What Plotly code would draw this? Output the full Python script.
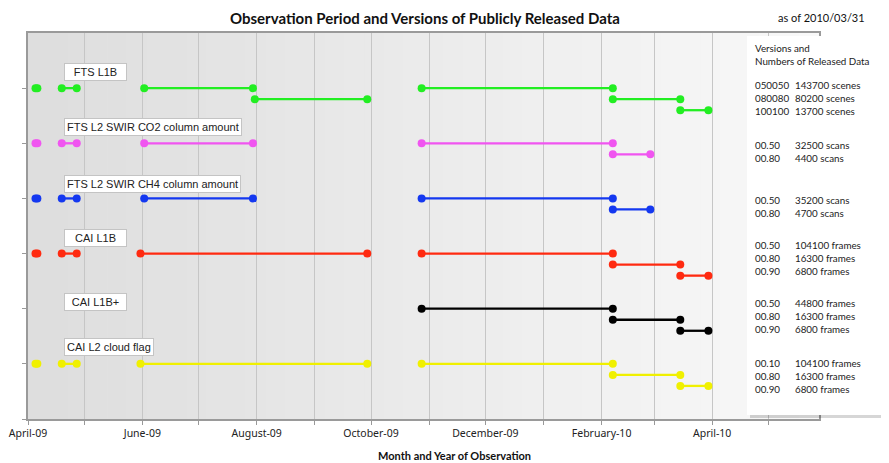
import plotly.graph_objects as go

# ---------------- data ----------------
products = ["FTS L1B", "FTS L2 SWIR CO2 column amount", "FTS L2 SWIR CH4 column amount",
            "CAI L1B", "CAI L1B+", "CAI L2 cloud flag"]
colors = ["#22ee22", "#f055f0", "#1438f0", "#ff2a10", "#000000", "#f0f000"]

fts_l1b_start = ["2009-04-05", "2009-04-19", "2009-06-02", "2009-07-31", "2009-10-28", "2010-02-07", "2010-03-15"]
fts_l1b_end   = ["2009-04-06", "2009-04-27", "2009-07-30", "2009-09-29", "2010-02-07", "2010-03-15", "2010-03-30"]
fts_l1b_level = [0, 0, 0, 1, 0, 1, 2]

co2_start = ["2009-04-05", "2009-04-19", "2009-06-02", "2009-10-28", "2010-02-07"]
co2_end   = ["2009-04-06", "2009-04-27", "2009-07-30", "2010-02-07", "2010-02-27"]
co2_level = [0, 0, 0, 0, 1]

ch4_start = ["2009-04-05", "2009-04-19", "2009-06-02", "2009-10-28", "2010-02-07"]
ch4_end   = ["2009-04-06", "2009-04-27", "2009-07-30", "2010-02-07", "2010-02-27"]
ch4_level = [0, 0, 0, 0, 1]

cai_l1b_start = ["2009-04-05", "2009-04-19", "2009-05-31", "2009-10-28", "2010-02-07", "2010-03-15"]
cai_l1b_end   = ["2009-04-06", "2009-04-27", "2009-09-29", "2010-02-07", "2010-03-15", "2010-03-30"]
cai_l1b_level = [0, 0, 0, 0, 1, 2]

cai_l1bp_start = ["2009-10-28", "2010-02-07", "2010-03-15"]
cai_l1bp_end   = ["2010-02-07", "2010-03-15", "2010-03-30"]
cai_l1bp_level = [0, 1, 2]

cai_l2_start = ["2009-04-05", "2009-04-19", "2009-05-31", "2009-10-28", "2010-02-07", "2010-03-15"]
cai_l2_end   = ["2009-04-06", "2009-04-27", "2009-09-29", "2010-02-07", "2010-03-15", "2010-03-30"]
cai_l2_level = [0, 0, 0, 0, 1, 2]

fts_l1b_versions = ["050050", "080080", "100100"]
fts_l1b_counts = ["143700 scenes", "80200 scenes", "13700 scenes"]
co2_versions = ["00.50", "00.80"]
co2_counts = ["32500 scans", "4400 scans"]
ch4_versions = ["00.50", "00.80"]
ch4_counts = ["35200 scans", "4700 scans"]
cai_l1b_versions = ["00.50", "00.80", "00.90"]
cai_l1b_counts = ["104100 frames", "16300 frames", "6800 frames"]
cai_l1bp_versions = ["00.50", "00.80", "00.90"]
cai_l1bp_counts = ["44800 frames", "16300 frames", "6800 frames"]
cai_l2_versions = ["00.10", "00.80", "00.90"]
cai_l2_counts = ["104100 frames", "16300 frames", "6800 frames"]

segments = [
    (fts_l1b_start, fts_l1b_end, fts_l1b_level),
    (co2_start, co2_end, co2_level),
    (ch4_start, ch4_end, ch4_level),
    (cai_l1b_start, cai_l1b_end, cai_l1b_level),
    (cai_l1bp_start, cai_l1bp_end, cai_l1bp_level),
    (cai_l2_start, cai_l2_end, cai_l2_level),
]
versions = [fts_l1b_versions, co2_versions, ch4_versions, cai_l1b_versions, cai_l1bp_versions, cai_l2_versions]
counts = [fts_l1b_counts, co2_counts, ch4_counts, cai_l1b_counts, cai_l1bp_counts, cai_l2_counts]

# ---------------- layout geometry ----------------
# the page body has an 8px default margin, so the figure is drawn 8px smaller
OFF = 8
W, H = 889 - OFF, 463 - OFF
L, T = 28 - OFF, 33 - OFF
R = W - (819 - OFF)
B = H - (419 - OFF)
PW, PH = W - L - R, H - T - B


def px(xp):  # reference-image pixel -> paper
    return (xp - OFF - L) / PW


def py(yp):
    return 1 - (yp - OFF - T) / PH


LEVEL_STEP = 0.2

fig = go.Figure()
for i, (starts, ends, levels) in enumerate(segments):
    row = i + 1
    xs, ys = [], []
    for s, e, lv in zip(starts, ends, levels):
        y = row + LEVEL_STEP * lv
        xs += [s, e, None]
        ys += [y, y, None]
    fig.add_trace(go.Scatter(
        x=xs, y=ys, mode="lines+markers", name=products[i],
        line=dict(color=colors[i], width=2.3),
        marker=dict(color=colors[i], size=8),
        showlegend=False, hoverinfo="skip",
    ))

shapes = []
# gradient background of plot area
NB = 40
for k in range(NB):
    g = int(222 + (249 - 222) * k / (NB - 1))
    shapes.append(dict(type="rect", xref="x domain", yref="y domain",
                       x0=k / NB, x1=(k + 1) / NB + 0.001, y0=0, y1=1,
                       fillcolor=f"rgb({g},{g},{g})", line=dict(width=0), layer="below"))

# side panel with shadow
shapes.append(dict(type="rect", xref="paper", yref="paper",
                   x0=px(750), x1=px(886), y0=py(418), y1=py(39),
                   fillcolor="rgba(0,0,0,0.16)", line=dict(width=0), layer="above"))
shapes.append(dict(type="rect", xref="paper", yref="paper",
                   x0=px(747), x1=px(883), y0=py(415), y1=py(36),
                   fillcolor="white", line=dict(width=0), layer="above"))

annotations = []
# product label boxes
label_offsets = [-0.3, -0.29, -0.27, -0.28, -0.13, -0.3]
label_widths = [57, None, None, 57, 57, None]
for i, name in enumerate(products):
    a = dict(x="2009-04-20", y=i + 1 + label_offsets[i], xref="x", yref="y",
             text=name, showarrow=False, xanchor="left", yanchor="middle",
             font=dict(family="Liberation Sans, Arial", size=11, color="#222"),
             bgcolor="white", bordercolor="#c4c4c4", borderwidth=1, borderpad=2)
    if label_widths[i]:
        a["width"] = label_widths[i]
        a["align"] = "center"
    annotations.append(a)

# panel text
panel_font = dict(family="Lato, Open Sans", size=9.8, color="#222")
annotations.append(dict(x=px(753), y=py(48), xref="paper", yref="paper", text="Versions and",
                        showarrow=False, xanchor="left", yanchor="middle", font=panel_font))
annotations.append(dict(x=px(753), y=py(61), xref="paper", yref="paper", text="Numbers of Released Data",
                        showarrow=False, xanchor="left", yanchor="middle", font=panel_font))
group_top = [85, 145, 200, 245, 303, 363]
line_gap = 12.8
for i in range(len(products)):
    for j, (v, c) in enumerate(zip(versions[i], counts[i])):
        yp = group_top[i] + j * line_gap
        annotations.append(dict(x=px(753), y=py(yp), xref="paper", yref="paper", text=v,
                                showarrow=False, xanchor="left", yanchor="middle", font=panel_font))
        annotations.append(dict(x=px(793), y=py(yp), xref="paper", yref="paper", text=c,
                                showarrow=False, xanchor="left", yanchor="middle", font=panel_font))

# titles
annotations.append(dict(x=px(425), y=py(18), xref="paper", yref="paper",
                        text="<b>Observation Period and Versions of Publicly Released Data</b>",
                        showarrow=False, xanchor="center", yanchor="middle",
                        font=dict(family="Lato", size=15, color="#111")))
annotations.append(dict(x=px(776), y=py(17), xref="paper", yref="paper", text="as of 2010/03/31",
                        showarrow=False, xanchor="left", yanchor="middle",
                        font=dict(family="Lato", size=11, color="#111")))
annotations.append(dict(x=px(454), y=py(455), xref="paper", yref="paper",
                        text="<b>Month and Year of Observation</b>",
                        showarrow=False, xanchor="center", yanchor="middle",
                        font=dict(family="Lato", size=11, color="#111")))

fig.update_layout(
    width=W, height=H,
    margin=dict(l=L, r=R, t=T, b=B, autoexpand=False),
    paper_bgcolor="white", plot_bgcolor="rgba(0,0,0,0)",
    shapes=shapes, annotations=annotations,
    showlegend=False,
)
fig.update_xaxes(
    type="date", range=["2009-04-01", "2010-05-28"], automargin=False,
    tick0="2009-04-01", dtick="M2", tickformat="%B-%y",
    ticks="outside", ticklen=4, tickcolor="#999",
    showgrid=True, gridcolor="#c6c6c6", gridwidth=1,
    minor=dict(dtick="M1", tick0="2009-04-01", ticks="outside", ticklen=4, tickcolor="#999",
               showgrid=True, gridcolor="#c6c6c6"),
    showline=True, linecolor="#9a9a9a", linewidth=1.5, mirror=True,
    tickfont=dict(family="Noto Sans", size=10.5, color="#222"),
    zeroline=False,
)
fig.update_yaxes(
    range=[7, 0], tickvals=[1, 2, 3, 4, 5, 6, 7], ticktext=[""] * 7, automargin=False,
    ticks="outside", ticklen=4, tickcolor="#999",
    showgrid=False, zeroline=False,
    showline=True, linecolor="#9a9a9a", linewidth=1.5, mirror=True,
)

fig.write_html("out.html")
